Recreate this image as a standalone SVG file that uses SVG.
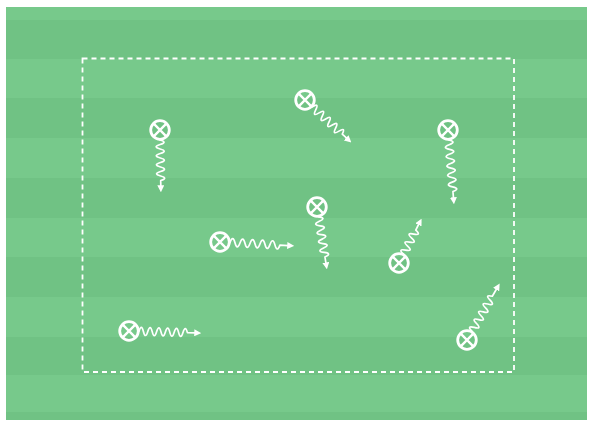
<svg xmlns="http://www.w3.org/2000/svg" width="592" height="422" viewBox="0 0 592 422">
<style>
.dark{fill:#70c284}
.ring{fill:none;stroke:#ffffff;stroke-width:2.8}
.x{stroke:#ffffff;stroke-width:2.4;stroke-linecap:round}
.wave{fill:none;stroke:#ffffff;stroke-width:1.7;stroke-linecap:round;stroke-linejoin:round;marker-end:url(#arr)}
.border{fill:none;stroke:#ffffff;stroke-width:1.8;stroke-dasharray:5 4}
</style>
<defs>
<marker id="arr" viewBox="0 0 10 10" refX="1" refY="5" markerWidth="7" markerHeight="7" markerUnits="userSpaceOnUse" orient="auto">
<path d="M0,0 L10,5 L0,10 z" fill="#ffffff"/>
</marker>
<g id="pl"><circle r="9.3" class="ring"/><path class="x" d="M-5.8,-5.8 L5.8,5.8 M5.8,-5.8 L-5.8,5.8"/></g>
</defs>
<rect x="0" y="0" width="592" height="422" fill="#ffffff"/>
<rect x="6" y="7" width="581" height="413" fill="#77c98b"/>
<rect class="dark" x="6" y="20" width="581" height="39"/>
<rect class="dark" x="6" y="98" width="581" height="40"/>
<rect class="dark" x="6" y="178" width="581" height="40"/>
<rect class="dark" x="6" y="257" width="581" height="40"/>
<rect class="dark" x="6" y="337" width="581" height="38"/>
<rect class="dark" x="6" y="412" width="581" height="8"/>
<rect id="area" class="border" x="82.5" y="58.5" width="431.5" height="313.5"/>
<g id="connectors">
<path class="wave" transform="translate(160,140) rotate(89)" d="M0,0 q2.25,-8 4.5,0 t4.5,0 t4.5,0 t4.5,0 t4.5,0 t4.5,0 t4.5,0 t4.5,0 t4.5,0 l5.5,0"/>
<path class="wave" transform="translate(312.4,106.8) rotate(42.5)" d="M0,0 q2.25,-8 4.5,0 t4.5,0 t4.5,0 t4.5,0 t4.5,0 t4.5,0 t4.5,0 t4.5,0 t4.5,0 l6,0"/>
<path class="wave" transform="translate(448.8,140) rotate(85.4)" d="M0,0 q2.35,-8 4.7,0 t4.7,0 t4.7,0 t4.7,0 t4.7,0 t4.7,0 t4.7,0 t4.7,0 t4.7,0 t4.7,0 t4.7,0 l6.5,0"/>
<path class="wave" transform="translate(318.6,216.9) rotate(81)" d="M0,0 q2.25,-8 4.5,0 t4.5,0 t4.5,0 t4.5,0 t4.5,0 t4.5,0 t4.5,0 t4.5,0 t4.5,0 l6.3,0"/>
<path class="wave" transform="translate(230,242.5) rotate(3)" d="M0,0 q2.5,-8 5,0 t5,0 t5,0 t5,0 t5,0 t5,0 t5,0 t5,0 t5,0 t5,0 l8,0"/>
<path class="wave" transform="translate(403.5,254.1) rotate(-63)" d="M0,0 q2.25,-8 4.5,0 t4.5,0 t4.5,0 t4.5,0 t4.5,0 t4.5,0 l6.5,0"/>
<path class="wave" transform="translate(139,331.3) rotate(1.6)" d="M0,0 q2.2,-8 4.4,0 t4.4,0 t4.4,0 t4.4,0 t4.4,0 t4.4,0 t4.4,0 t4.4,0 t4.4,0 t4.4,0 t4.4,0 l7.6,0"/>
<path class="wave" transform="translate(472,331.3) rotate(-59.9)" d="M0,0 q2.25,-8 4.5,0 t4.5,0 t4.5,0 t4.5,0 t4.5,0 t4.5,0 t4.5,0 t4.5,0 t4.5,0 l8.4,0"/>
</g>
<g id="p1"><use href="#pl" x="160" y="130"/></g>
<g id="p2"><use href="#pl" x="305" y="100"/></g>
<g id="p3"><use href="#pl" x="448" y="130"/></g>
<g id="p4"><use href="#pl" x="317" y="207"/></g>
<g id="p5"><use href="#pl" x="220" y="242"/></g>
<g id="p6"><use href="#pl" x="399" y="263"/></g>
<g id="p7"><use href="#pl" x="129" y="331"/></g>
<g id="p8"><use href="#pl" x="467" y="340"/></g>
</svg>
